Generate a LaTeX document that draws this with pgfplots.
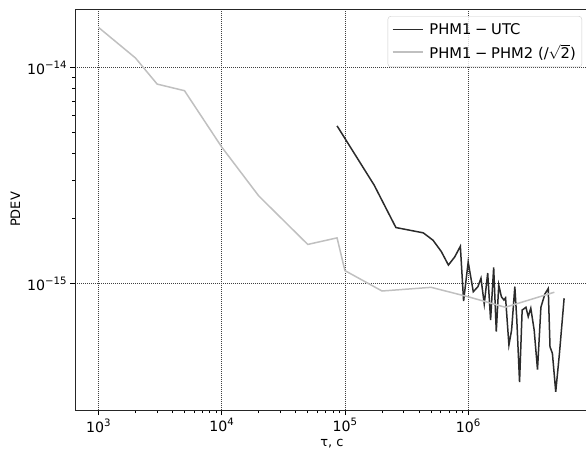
\documentclass[border=0pt]{standalone}
\usepackage{pgfplots}
\pgfplotsset{compat=1.18}
\usepackage{fontspec}
\setmainfont{DejaVu Sans}
\usetikzlibrary{calc}
\definecolor{darkline}{RGB}{43,43,43}
\definecolor{lightline}{RGB}{192,192,192}
\newcommand\fs{\fontsize{14.2}{16.5}\selectfont}
\newcommand\fl{\fontsize{13}{15.5}\selectfont}
\newcommand\fleg{\fontsize{14.8}{17}\selectfont}
\newcommand\ms{\hspace{0.25em}−\hspace{0.25em}}
\newcommand\sups[1]{\raisebox{0.42em}{\fontsize{10.2}{12}\selectfont #1}}
\begin{document}
\begin{tikzpicture}
\begin{axis}[
  name=ax,
  xmode=log, ymode=log,
  width=514bp, height=401bp, scale only axis,
  xmin=647, xmax=9.55e6,
  ymin=2.60e-16, ymax=1.87e-14,
  tick pos=left,
  tick align=outside,
  major tick length=5bp, minor tick length=3bp,
  every tick/.style={black, line width=0.7bp},
  axis line style={line width=0.9bp, black!85},
  xtick={1e3,1e4,1e5,1e6},
  xticklabels={10\sups{3},10\sups{4},10\sups{5},10\sups{6}},
  ytick={1e-15,1e-14},
  yticklabels={10\sups{−15},10\sups{−14}},
  ticklabel style={font=\fs},
  grid=major,
  major grid style={black!75, line width=0.6bp, dash pattern=on 0.8bp off 1.2bp},
  xlabel={τ, с}, ylabel={PDEV},
  label style={font=\fl},
  legend style={at={(0.9864,0.9825)}, anchor=north east, font=\fleg,
    rounded corners=3bp, draw=black!20, fill=white, fill opacity=0.8, text opacity=1,
    inner xsep=4bp, inner ysep=5bp, row sep=5bp},
  legend cell align=left,
  legend image code/.code={\draw[#1, line width=1.6bp] (0bp,0bp) -- (30bp,0bp); \path (34bp,0bp);},
]
\addplot[darkline, line width=1.5bp] coordinates {
(86400, 5.38e-15)
(172800, 2.86e-15)
(259200, 1.82e-15)
(432000, 1.72e-15)
(518400, 1.59e-15)
(604800, 1.41e-15)
(691200, 1.22e-15)
(777600, 1.33e-15)
(864000, 1.49e-15)
(918000, 8.31e-16)
(1.0e6, 1.26e-15)
(1.1e6, 9.18e-16)
(1.2e6, 9.69e-16)
(1.27e6, 1.06e-15)
(1.35e6, 8.05e-16)
(1.44e6, 1.12e-15)
(1.52e6, 6.79e-16)
(1.61e6, 1.19e-15)
(1.69e6, 6.0e-16)
(1.77e6, 9.86e-16)
(1.86e6, 8.7e-16)
(1.95e6, 8.4e-16)
(2.01e6, 8.6e-16)
(2.14e6, 5.2e-16)
(2.25e6, 6.1e-16)
(2.39e6, 9.7e-16)
(2.48e6, 6.8e-16)
(2.61e6, 3.5e-16)
(2.74e6, 7.55e-16)
(2.94e6, 7.78e-16)
(3.07e6, 7.04e-16)
(3.22e6, 7.7e-16)
(3.43e6, 6.1e-16)
(3.65e6, 4.0e-16)
(3.89e6, 7.78e-16)
(4.19e6, 8.96e-16)
(4.46e6, 9.5e-16)
(4.61e6, 5.1e-16)
(4.82e6, 4.76e-16)
(5.13e6, 3.16e-16)
(5.5e6, 4.76e-16)
(6.0e6, 8.56e-16)
};
\addlegendentry{PHM1\ms UTC}
\addplot[lightline, line width=1.5bp] coordinates {
(1e3, 1.54e-14)
(2e3, 1.11e-14)
(3e3, 8.4e-15)
(5e3, 7.83e-15)
(1e4, 4.3e-15)
(2e4, 2.55e-15)
(5e4, 1.52e-15)
(86400, 1.63e-15)
(1e5, 1.15e-15)
(2e5, 9.25e-16)
(5e5, 9.62e-16)
(1e6, 8.7e-16)
(2e6, 7.78e-16)
(5e6, 9.13e-16)
};
\addlegendentry{PHM1\ms PHM2 (/$\sqrt{\hbox{2}}$)}
\end{axis}
\pgfresetboundingbox
\path ($(ax.south west)+(-75bp,-42bp)$) rectangle ($(ax.north east)+(-3bp,9bp)$);
\end{tikzpicture}
\end{document}
